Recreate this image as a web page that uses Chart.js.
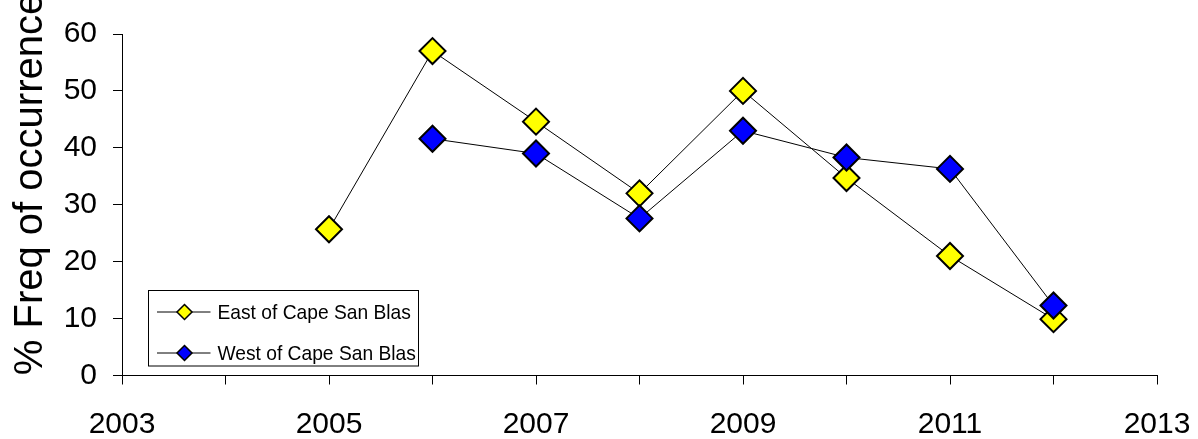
<!DOCTYPE html>
<html>
<head>
<meta charset="utf-8">
<script src="https://cdn.jsdelivr.net/npm/chart.js@4/dist/chart.umd.min.js"></script>
<style>
  html, body { margin: 0; padding: 0; background: #fff; }
  #wrap { width: 1198px; height: 439px; position: relative; }
</style>
</head>
<body>
<div id="wrap"><canvas id="c" width="1198" height="439"></canvas></div>
<script>
const years = [2005, 2006, 2007, 2008, 2009, 2010, 2011, 2012];
const eastValues = [25.7, 57.0, 44.6, 32.0, 50.0, 34.7, 21.0, 9.9];
const westValues = [null, 41.6, 39.0, 27.6, 43.0, 38.3, 36.3, 12.3];
const seriesNames = ['East of Cape San Blas', 'West of Cape San Blas'];
const yTitle = '% Freq of occurrence';
const xMin = 2003, xMax = 2013;
const yMin = 0, yMax = 60;

const FONT = "'Liberation Sans', Arial, sans-serif";

function toPoints(vals) {
  return years.map((y, i) => ({ x: y, y: vals[i] })).filter(p => p.y !== null);
}

const titlePlugin = {
  id: 'yTitleDraw',
  afterDraw(chart) {
    const ctx = chart.ctx;
    ctx.save();
    ctx.font = '40px ' + FONT;
    ctx.fillStyle = '#000';
    ctx.textAlign = 'center';
    ctx.textBaseline = 'alphabetic';
    ctx.translate(42, 184);
    ctx.rotate(-Math.PI / 2);
    ctx.fillText(yTitle, 0, 0);
    ctx.restore();
  }
};

const legendPlugin = {
  id: 'boxLegend',
  afterDraw(chart) {
    const ctx = chart.ctx;
    const a = chart.chartArea;
    const left = a.left + 26.5, top = a.top + 256.5, w = 270, h = 75.5;
    ctx.save();
    ctx.strokeStyle = '#000';
    ctx.lineWidth = 1;
    ctx.fillStyle = '#fff';
    ctx.fillRect(left, top, w, h);
    ctx.strokeRect(left, top, w, h);
    const rows = [top + 21.5, top + 62.5];
    chart.data.datasets.forEach((ds, i) => {
      const cy = rows[i];
      ctx.beginPath();
      ctx.moveTo(left + 8.5, cy);
      ctx.lineTo(left + 62, cy);
      ctx.strokeStyle = '#000';
      ctx.lineWidth = 1;
      ctx.stroke();
      const cx = left + 36, r = 7.5;
      ctx.beginPath();
      ctx.moveTo(cx, cy - r);
      ctx.lineTo(cx + r, cy);
      ctx.lineTo(cx, cy + r);
      ctx.lineTo(cx - r, cy);
      ctx.closePath();
      ctx.fillStyle = ds.pointBackgroundColor;
      ctx.fill();
      ctx.lineWidth = 1.5;
      ctx.stroke();
      ctx.fillStyle = '#000';
      ctx.font = '21px ' + FONT;
      ctx.textAlign = 'left';
      ctx.textBaseline = 'middle';
      const tw = ctx.measureText(ds.label).width;
      ctx.fillText(ds.label, left + 69, cy + 1, tw * 0.915);
    });
    ctx.restore();
  }
};

new Chart(document.getElementById('c'), {
  type: 'line',
  data: {
    datasets: [
      {
        label: seriesNames[0],
        data: toPoints(eastValues),
        borderColor: '#000',
        borderWidth: 1,
        pointStyle: 'rectRot',
        pointRadius: 13,
        pointHoverRadius: 13,
        pointBackgroundColor: '#ffff00',
        pointBorderColor: '#000',
        pointBorderWidth: 2,
        tension: 0,
        order: 1
      },
      {
        label: seriesNames[1],
        data: toPoints(westValues),
        borderColor: '#000',
        borderWidth: 1,
        pointStyle: 'rectRot',
        pointRadius: 13,
        pointHoverRadius: 13,
        pointBackgroundColor: '#0000ff',
        pointBorderColor: '#000',
        pointBorderWidth: 2,
        tension: 0,
        order: 0
      }
    ]
  },
  options: {
    responsive: false,
    animation: false,
    devicePixelRatio: 1,
    layout: { padding: { left: 0, right: 41, top: 34, bottom: 0 } },
    plugins: {
      legend: { display: false },
      tooltip: { enabled: false },
      title: { display: false }
    },
    scales: {
      x: {
        type: 'linear',
        min: xMin,
        max: xMax,
        afterFit(scale) {
          scale.height = 63.5;
          scale.paddingLeft = 0;
          scale.paddingRight = 0;
        },
        ticks: {
          stepSize: 1,
          autoSkip: false,
          maxRotation: 0,
          padding: 22,
          color: '#000',
          font: { family: FONT, size: 30 },
          callback: (v) => (v % 2 === 1 ? String(v) : '')
        },
        grid: { drawOnChartArea: false, drawTicks: true, tickLength: 9, color: '#000' },
        border: { display: true, color: '#000', width: 1 }
      },
      y: {
        type: 'linear',
        min: yMin,
        max: yMax,
        afterFit(scale) {
          scale.width = 122;
          scale.paddingTop = 0;
          scale.paddingBottom = 0;
        },
        ticks: {
          stepSize: 10,
          padding: 16,
          color: '#000',
          font: { family: FONT, size: 30 }
        },
        grid: { drawOnChartArea: false, drawTicks: true, tickLength: 9, color: '#000' },
        border: { display: true, color: '#000', width: 1 }
      }
    }
  },
  plugins: [titlePlugin, legendPlugin]
});
</script>
</body>
</html>
